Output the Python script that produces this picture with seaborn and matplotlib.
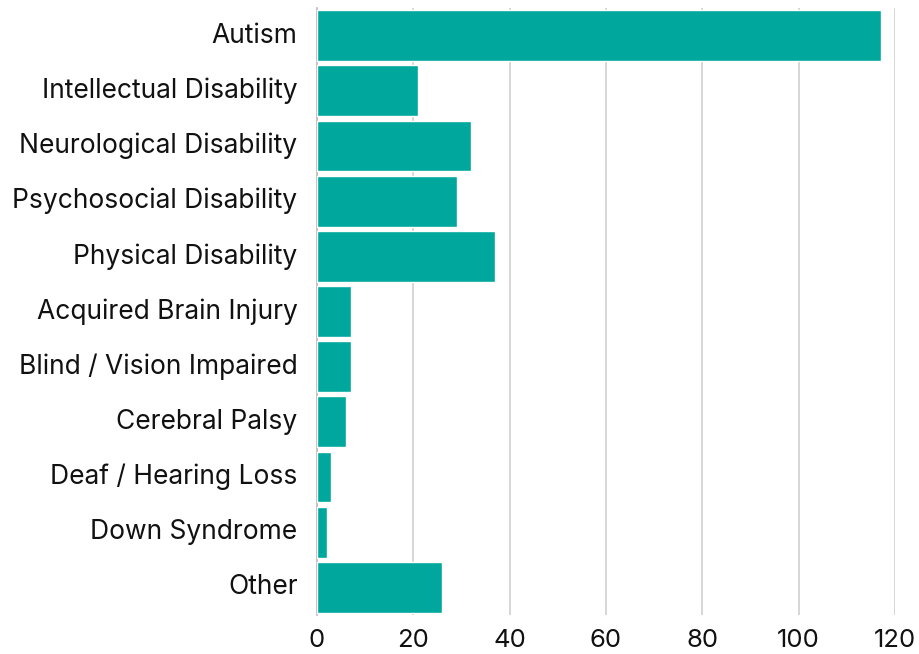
import matplotlib
matplotlib.use("Agg")
import matplotlib.pyplot as plt
import matplotlib.transforms as mtransforms
import seaborn as sns
import pandas as pd

categories = ["Autism", "Intellectual Disability", "Neurological Disability",
              "Psychosocial Disability", "Physical Disability", "Acquired Brain Injury",
              "Blind / Vision Impaired", "Cerebral Palsy", "Deaf / Hearing Loss",
              "Down Syndrome", "Other"]
values = [117, 21, 32, 29, 37, 7, 7, 6, 3, 2, 26]
xticks = [0, 20, 40, 60, 80, 100, 120]

sns.set_theme(style="white")
plt.rcParams['font.family'] = ['Inter', 'DejaVu Sans']

df = pd.DataFrame({"cat": categories, "val": values})
fig = plt.figure(figsize=(9.19, 6.54), dpi=100)
ax = fig.add_axes([317/919, 1 - 615/654, (895-317)/919, (615-8)/654])
sns.barplot(data=df, x="val", y="cat", color="#00A79D", saturation=1,
            width=0.92, ax=ax, zorder=3)
ax.set_xlim(0, 120)
ax.set_xticks(xticks)
ax.set_xticklabels([str(t) for t in xticks], fontsize=18.5, color="#111111")
ax.tick_params(axis='y', labelsize=19, colors="#111111", length=0, pad=14)
ax.tick_params(axis='x', length=0, pad=10)
ax.xaxis.grid(True, color="#d0d0d0", linewidth=1.2, zorder=0)
ax.set_xlabel("")
ax.set_ylabel("")
for s in ["top", "right", "bottom"]:
    ax.spines[s].set_visible(False)
ax.spines["left"].set_color("#bbbbbb")
ax.spines["left"].set_linewidth(1.2)

offset = mtransforms.ScaledTranslation(0, 3/100, fig.dpi_scale_trans)
for lbl in ax.get_yticklabels():
    lbl.set_transform(lbl.get_transform() + offset)

fig.savefig("out.png", dpi=100)
